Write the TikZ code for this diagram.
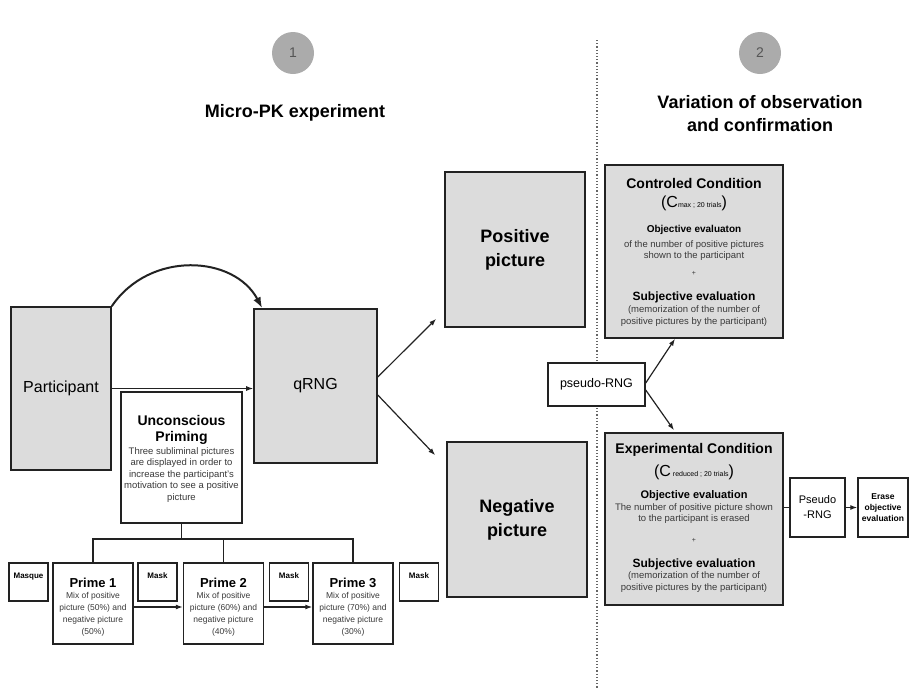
\documentclass[tikz,border=0pt]{standalone}
\usepackage{fontspec}
\setmainfont{Liberation Sans}
\usetikzlibrary{arrows.meta,positioning}
\definecolor{cBox}{HTML}{DCDCDC}
\definecolor{cStep}{HTML}{ABABAB}
\definecolor{cNum}{HTML}{555555}
\definecolor{cLine}{HTML}{222222}
\definecolor{cText}{HTML}{3A3A3A}
\definecolor{cMuted}{HTML}{666666}
\tikzset{
  gbox/.style ={draw=cLine, line width=1.6pt, fill=cBox, inner sep=0pt, align=center},
  wbox/.style ={draw=cLine, line width=1.4pt, fill=white, inner sep=0pt, align=center},
  num/.style  ={circle, fill=cStep, minimum size=42pt, inner sep=0pt, text=cNum,
                font=\fontsize{14}{16}\selectfont},
  ttl/.style  ={align=center, font=\fontsize{18}{23}\selectfont\bfseries},
  hd/.style   ={align=center, font=\fontsize{14}{16}\selectfont\bfseries},
  txt/.style  ={align=center, text=cText, font=\fontsize{9.5}{11.5}\selectfont},
  mlab/.style ={anchor=north, font=\fontsize{8}{9}\selectfont\bfseries, inner sep=10pt},
  link/.style ={line width=1.4pt, draw=cLine},
  arrow/.style={-{Latex[length=7pt,width=5pt]}, line width=1.2pt, draw=cLine},
  bigarrow/.style={-{Latex[length=11pt,width=8pt]}, line width=2pt, draw=cLine},
}
\begin{document}
\begin{tikzpicture}[x=1pt, y=-1pt]
  \useasboundingbox (0,0) rectangle (910,689);
  % separator between the two parts
  \draw[dotted, line width=1.2pt, cMuted] (597,40) -- (597,689);
  % headings
  \node[num] (n1) at (293,53) {1};
  \node[num] (n2) at (760,53) {2};
  \node[ttl] (t1) at (295,113) {Micro-PK experiment};
  \node[ttl] (t2) at (760,114) {Variation of observation\\and confirmation};
  % part 1
  \node[gbox, minimum width=100pt, minimum height=163pt, font=\fontsize{16}{18}\selectfont] (part) at (61,388.5) {Participant};
  \node[gbox, minimum width=123pt, minimum height=154pt, font=\fontsize{16}{18}\selectfont] (qrng) at (315.5,386) {qRNG};
  \node[gbox, minimum width=140pt, minimum height=155pt, font=\fontsize{18}{24}\selectfont\bfseries] (pos) at (515,249.5) {Positive\\picture};
  \node[gbox, minimum width=140pt, minimum height=155pt, font=\fontsize{18}{24}\selectfont\bfseries] (neg) at (517,519.5) {Negative\\picture};
  \node[wbox, minimum width=121pt, minimum height=131pt] (unc) at (181.5,457.5) {};
  \node[hd] (uncT) at (181.5,430) {Unconscious\\Priming};
  \node[txt] (uncD) at (181.5,475) {Three subliminal pictures\\are displayed in order to\\increase the participant's\\motivation to see a positive\\picture};
  % primes and masks
  \foreach \i/\x/\p/\q in {1/93/50/50, 2/223.5/60/40, 3/353/70/30} {
    \node[wbox, minimum width=80pt, minimum height=81pt] (p\i) at (\x,603.5) {};
    \node[font=\fontsize{13}{15}\selectfont\bfseries] (p\i T) at (\x,583) {Prime \i};
    \node[txt, font=\fontsize{8.5}{12}\selectfont] (p\i D) at (\x,614) {Mix of positive\\picture (\p\%) and\\negative picture\\(\q\%)};
  }
  \foreach \n/\x/\t in {m0/28.5/Masque, m1/157.5/Mask, m2/289/Mask, m3/419/Mask}
    \node[wbox, minimum width=39pt, minimum height=38pt, label={[mlab]north:\t}] (\n) at (\x,582) {};
  \coordinate (bus) at (181.5,539);
  \draw[link] (unc.south) -- (bus);
  \draw[link] (p1.north) |- (bus) -| (p3.north);
  \draw[link] (p2.north) -- (p2.north |- bus);
  \draw[arrow] ([yshift=-3.5pt]p1.east) -- ([yshift=-3.5pt]p2.west);
  \draw[arrow] ([yshift=-3.5pt]p2.east) -- ([yshift=-3.5pt]p3.west);
  \draw[arrow] (part.east) -- (qrng.west |- part.east);
  \draw[bigarrow] (part.north east) .. controls +(38,-56) and +(-28,-53) .. ([xshift=9pt]qrng.north west);
  \draw[arrow] ([yshift=9pt]qrng.east) -- ([xshift=-8pt,yshift=9pt]pos.south west);
  \draw[arrow] ([yshift=-9pt]qrng.east) -- ([xshift=-11pt,yshift=-14pt]neg.north west);
  % part 2
  \node[gbox, minimum width=178pt, minimum height=173pt] (ctrl) at (694,251.5) {};
  \node[hd] (ctrlT) at (694,183) {Controled Condition};
  \node (ctrlC) at (694,203) {\fontsize{16}{18}\selectfont(C\fontsize{7}{8}\selectfont max ; 20 trials\fontsize{16}{18}\selectfont)};
  \node[font=\fontsize{10}{12}\selectfont\bfseries] (ctrlO) at (694,230) {Objective evaluaton};
  \node[txt] (ctrlOD) at (694,250.5) {of the number of positive pictures\\shown to the participant};
  \node[txt, font=\fontsize{7}{8}\selectfont] (ctrlP) at (694,273) {+};
  \node[font=\fontsize{12}{14}\selectfont\bfseries] (ctrlS) at (694,297) {Subjective evaluation};
  \node[txt] (ctrlSD) at (694,316) {(memorization of the number of\\positive pictures by the participant)};
  \node[gbox, minimum width=178pt, minimum height=172pt] (exp) at (694,519) {};
  \node[hd] (expT) at (694,450) {Experimental Condition};
  \node (expC) at (694,472) {\fontsize{16}{18}\selectfont(C\fontsize{7}{8}\selectfont\ reduced ; 20 trials\fontsize{16}{18}\selectfont)};
  \node[font=\fontsize{11}{13}\selectfont\bfseries] (expO) at (694,496) {Objective evaluation};
  \node[txt] (expOD) at (694,513.5) {The number of positive picture shown\\to the participant is erased};
  \node[txt, font=\fontsize{7}{8}\selectfont] (expP) at (694,540) {+};
  \node[font=\fontsize{12}{14}\selectfont\bfseries] (expS) at (694,564) {Subjective evaluation};
  \node[txt] (expSD) at (694,582) {(memorization of the number of\\positive pictures by the participant)};
  \node[wbox, minimum width=97pt, minimum height=43pt, font=\fontsize{12.5}{14}\selectfont] (prng) at (596.5,384.5) {pseudo-RNG};
  \draw[arrow] ([yshift=1.5pt]prng.east) -- ([xshift=-19pt]ctrl.south);
  \draw[arrow] ([yshift=-5.5pt]prng.east) -- ([xshift=-20pt,yshift=2pt]exp.north);
  \node[wbox, minimum width=55pt, minimum height=59pt, font=\fontsize{11}{15}\selectfont] (ps) at (817.5,507.5) {Pseudo\\-RNG};
  \node[wbox, minimum width=50pt, minimum height=59pt, font=\fontsize{8.5}{11}\selectfont\bfseries] (erase) at (883,507.5) {Erase\\objective\\evaluation};
  \draw[link] (ps.west -| exp.east) -- (ps.west);
  \draw[arrow] (ps.east) -- (erase.west);
\end{tikzpicture}
\end{document}
